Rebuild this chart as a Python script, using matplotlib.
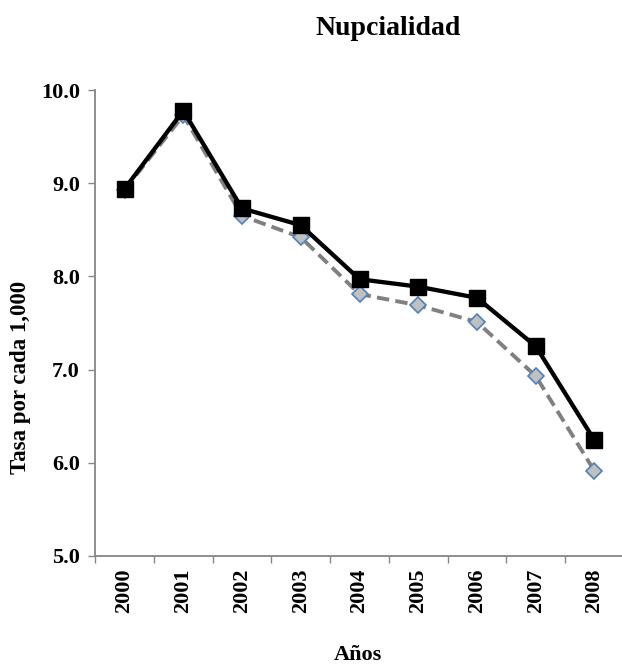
import numpy as np
import matplotlib
matplotlib.use("Agg")
import matplotlib.pyplot as plt
from matplotlib.ticker import FixedLocator, NullFormatter, FormatStrFormatter

# Data
years = ["2000", "2001", "2002", "2003", "2004", "2005", "2006", "2007", "2008"]
tasa_black = [8.94, 9.78, 8.73, 8.55, 7.97, 7.89, 7.77, 7.25, 6.24]
tasa_gray = [8.93, 9.73, 8.65, 8.42, 7.81, 7.69, 7.51, 6.93, 5.91]

plt.rcParams['font.family'] = ['Liberation Serif', 'DejaVu Serif']
plt.rcParams['font.weight'] = 'bold'

fig = plt.figure(figsize=(6.22, 6.68), dpi=100)
ax = fig.add_axes([0.153, 0.168, 0.85, 0.697])

x = np.arange(len(years))
ax.plot(x, tasa_gray, color='#808080', linestyle=(0, (3.2, 1.6)), linewidth=2.8,
        marker='D', markersize=8, markerfacecolor='#c0c0c0',
        markeredgecolor='#4f81bd', markeredgewidth=1.2, zorder=3)
ax.plot(x, tasa_black, color='black', linewidth=3.1, marker='s',
        markersize=11, zorder=4)

ax.set_xlim(-0.5, len(years) - 0.5)
ax.set_ylim(5.0, 10.0)
ax.set_yticks([5, 6, 7, 8, 9, 10])
ax.yaxis.set_major_formatter(FormatStrFormatter('%.1f'))

# category labels between boundary ticks
ax.set_xticks(x)
ax.set_xticklabels(years, rotation=90)
ax.xaxis.set_minor_locator(FixedLocator(np.arange(-0.5, len(years), 1.0)))
ax.xaxis.set_minor_formatter(NullFormatter())
ax.tick_params(axis='x', which='major', length=0, pad=9, labelsize=16)
ax.tick_params(axis='x', which='minor', length=5, color='#868686', width=1)
ax.tick_params(axis='y', length=5, color='#868686', width=1, pad=6, labelsize=16)

for s in ['top', 'right']:
    ax.spines[s].set_visible(False)
for s in ['left', 'bottom']:
    ax.spines[s].set_color('#868686')
    ax.spines[s].set_linewidth(1.3)

fig.text(0.624, 0.957, "Nupcialidad", ha='center', va='center', fontsize=20, fontweight='bold')
fig.text(0.576, 0.02, "Años", ha='center', va='center', fontsize=16, fontweight='bold')
fig.text(0.033, 0.435, "Tasa por cada 1,000", ha='center', va='center',
         rotation=90, fontsize=16.5, fontweight='bold')

fig.savefig("out.png", dpi=100)
